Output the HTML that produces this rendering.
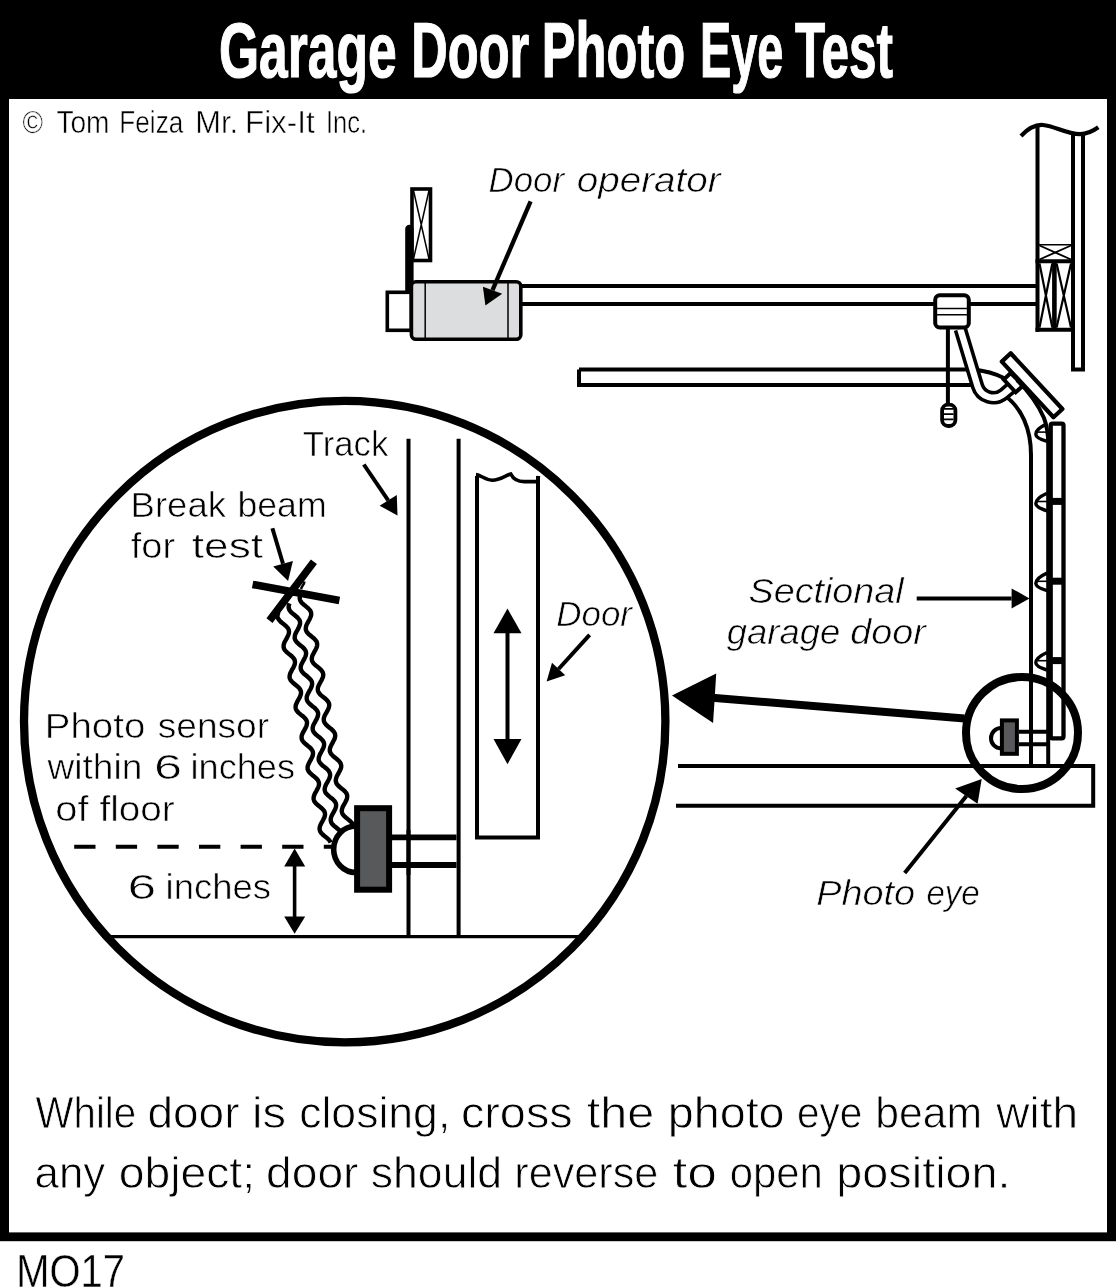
<!DOCTYPE html>
<html lang="en"><head><meta charset="utf-8"><title>Garage Door Photo Eye Test</title>
<style>
html,body{margin:0;padding:0;background:#fff}
svg{display:block;will-change:transform}
text{font-family:"Liberation Sans","DejaVu Sans",sans-serif;fill:#000}
.title{font-weight:bold;font-size:78px;fill:#fff;stroke:#fff;stroke-width:1.2px}
.cp{font-size:31px;stroke:#fff;stroke-width:.5px}
.lb{font-size:35px;stroke:#fff;stroke-width:.6px}
.lbi{font-size:35px;font-style:italic;stroke:#fff;stroke-width:.6px}
.cap{font-size:44px;stroke:#fff;stroke-width:.8px}
.code{font-size:47px;stroke:#fff;stroke-width:.4px}
.s15{stroke:#000;stroke-width:1.5;fill:none}
.s2{stroke:#000;stroke-width:2;fill:none}
.s35{stroke:#000;stroke-width:3.6;fill:none}
.s4{stroke:#000;stroke-width:4;fill:none}
</style></head><body>
<svg width="1116" height="1288" viewBox="0 0 1116 1288">
<rect x="0" y="0" width="1116" height="1288" style="fill:#fff"/>
<rect x="0" y="0" width="1116" height="99" fill="#000"/>
<rect x="0" y="0" width="9" height="1241" fill="#000"/>
<rect x="1107" y="0" width="9" height="1241" fill="#000"/>
<rect x="0" y="1232.4" width="1116" height="8.8" fill="#000"/>
<text class="title" x="219.0" y="76.8" textLength="177.6" lengthAdjust="spacingAndGlyphs">Garage</text>
<text class="title" x="411.3" y="76.8" textLength="118.0" lengthAdjust="spacingAndGlyphs">Door</text>
<text class="title" x="541.8" y="76.8" textLength="143.5" lengthAdjust="spacingAndGlyphs">Photo</text>
<text class="title" x="700.0" y="76.8" textLength="83.4" lengthAdjust="spacingAndGlyphs">Eye</text>
<text class="title" x="795.0" y="76.8" textLength="98.0" lengthAdjust="spacingAndGlyphs">Test</text>
<text class="cp" x="22.6" y="133.3" textLength="20.5" lengthAdjust="spacingAndGlyphs">©</text>
<text class="cp" x="56.4" y="133.3" textLength="53.1" lengthAdjust="spacingAndGlyphs">Tom</text>
<text class="cp" x="119.3" y="133.3" textLength="64.0" lengthAdjust="spacingAndGlyphs">Feiza</text>
<text class="cp" x="195.3" y="133.3" textLength="42.8" lengthAdjust="spacingAndGlyphs">Mr.</text>
<text class="cp" x="245.0" y="133.3" textLength="69.6" lengthAdjust="spacingAndGlyphs">Fix-It</text>
<text class="cp" x="326.0" y="133.3" textLength="41.0" lengthAdjust="spacingAndGlyphs">Inc.</text>
<path d="M1037.5,127 V331.7 M1073,132 V371.5 M1083,133 V371.5 M1071,369.5 H1085" class="s4"/>
<path d="M1021,136 C1029,127.5 1036,124.5 1043,125 C1055,126 1066,134 1080,134.2 C1087,134 1093,131 1098.3,127.2" stroke="#000" stroke-width="4.2" fill="none"/>
<path d="M1038,244.8 H1072" stroke="#000" stroke-width="1.6" fill="none"/>
<path d="M1039.5,245.5 L1071,259.5 M1039.5,259.5 L1071,245.5" stroke="#000" stroke-width="1.9" fill="none"/>
<path d="M1035.5,261.2 H1075 M1035.5,329.7 H1073" class="s4"/>
<path d="M1054.4,262 V329" stroke="#000" stroke-width="4.6" fill="none"/>
<path d="M1039.5,263.5 L1052.3,327.5 M1039.5,327.5 L1052.3,263.5 M1056.6,263.5 L1071,327.5 M1056.6,327.5 L1071,263.5" stroke="#000" stroke-width="2.2" fill="none"/>
<path d="M522,286.1 H1036 M522,303.9 H1036" class="s4"/>
<rect x="412" y="189" width="18.5" height="71.5" class="s35"/>
<path d="M413.5,190.5 L429,259 M429,190.5 L413.5,259" class="s15"/>
<path d="M409.4,229 V294" stroke="#000" stroke-width="8.4" stroke-linecap="round" fill="none"/>
<rect x="387.3" y="292.3" width="24" height="38" class="s35" style="fill:#fff"/>
<rect x="411.4" y="281.8" width="109.4" height="57.5" rx="4.5" class="s35" style="fill:#dcddde"/>
<path d="M425.2,283 V338 M508,283 V338" class="s15"/>
<path d="M579,369.5 H970 C986,370.5 997,374 1006,379" class="s4"/>
<path d="M965,385 H579 V369.5" class="s4"/>
<path d="M965,385 H973 M1006,396.5 C1021,408 1031,428 1031,455 V765" class="s4"/>
<path d="M947.9,329 V404" class="s4"/>
<rect x="942.1" y="404.7" width="13.3" height="21.3" rx="6" stroke="#000" stroke-width="3.8" style="fill:#fff"/>
<path d="M944,408.9 H953.5 M944,414.2 H953.5 M944,419.4 H953.5" stroke="#000" stroke-width="1.7" fill="none"/>
<path d="M960.3,329 L977.5,386 A16.5,16.5 0 0 0 1003.9,393.8 L1012,387" stroke="#000" stroke-width="13.5" fill="none"/>
<path d="M960.3,329 L977.5,386 A16.5,16.5 0 0 0 1003.9,393.8 L1012,387" stroke="#fff" stroke-width="6.3" fill="none"/>
<rect x="935.2" y="295.3" width="33.6" height="32.2" rx="4.5" class="s4" style="fill:#fff"/>
<path d="M937,308.5 H967 M937,314.8 H967" class="s15"/>
<polygon points="1010.7,353.3 1001.8,361.6 1053.5,417.3 1062.4,409" stroke="#000" stroke-width="4.2" style="fill:#fff" stroke-linejoin="round"/>
<polygon points="1010.7,373 1003.8,379.5 1015.7,392.3 1023,385.6" class="s4" style="fill:#fff"/>
<path d="M1017,380 C1027,390 1038,404 1044,418 C1047,426 1048.2,434 1048.2,444 V764" class="s4"/>
<rect x="1050.7" y="423.6" width="12.8" height="314.8" rx="1.8" stroke="#000" stroke-width="4.3" style="fill:#fff"/>
<path d="M1051,501.4 H1063.5" stroke="#000" stroke-width="7" fill="none"/>
<path d="M1051,581.2 H1063.5" stroke="#000" stroke-width="7" fill="none"/>
<path d="M1051,660.6 H1063.5" stroke="#000" stroke-width="7" fill="none"/>
<path d="M1047,423.9 C1041,426.6 1035.8,430.1 1035.8,434.2 C1035.8,437.6 1041,439.6 1047,441.4" stroke="#000" stroke-width="3.4" fill="none"/>
<path d="M1037.5,432.1 H1047" stroke="#000" stroke-width="1.6" fill="none"/>
<path d="M1047,493.3 C1041,496.0 1035.8,499.5 1035.8,503.6 C1035.8,507.0 1041,509.0 1047,510.8" stroke="#000" stroke-width="3.4" fill="none"/>
<path d="M1037.5,501.5 H1047" stroke="#000" stroke-width="1.6" fill="none"/>
<path d="M1047,573.1 C1041,575.8 1035.8,579.3 1035.8,583.4 C1035.8,586.8 1041,588.8 1047,590.6" stroke="#000" stroke-width="3.4" fill="none"/>
<path d="M1037.5,581.3 H1047" stroke="#000" stroke-width="1.6" fill="none"/>
<path d="M1047,652.5 C1041,655.2 1035.8,658.7 1035.8,662.8 C1035.8,666.2 1041,668.2 1047,670.0" stroke="#000" stroke-width="3.4" fill="none"/>
<path d="M1037.5,660.7 H1047" stroke="#000" stroke-width="1.6" fill="none"/>
<path d="M678,766 H1093.2 V805.7 H676" class="s4"/>
<path d="M1019,731.8 H1047 M1019,744.3 H1047" class="s4"/>
<path d="M1001,728 A10,10.2 0 0 0 1001,748.4" class="s4"/>
<rect x="1001.9" y="720.4" width="15" height="33.4" class="s4" style="fill:#58595b"/>
<circle cx="1022" cy="733" r="56" stroke="#000" stroke-width="8" fill="none"/>
<path d="M712,697.7 L964.5,718.6" stroke="#000" stroke-width="8" fill="none"/>
<polygon points="672,695.5 716.2,673.5 713.1,722.9" fill="#000"/>
<text class="lbi" x="488.6" y="192.1" textLength="75.4" lengthAdjust="spacingAndGlyphs">Door</text>
<text class="lbi" x="576.8" y="192.1" textLength="143.8" lengthAdjust="spacingAndGlyphs">operator</text>
<path d="M530.6,201.4 L492.5,290.2" stroke="#000" stroke-width="4.3" fill="none"/><polygon points="485.4,305.5 482.9,286.7 502.2,293.8" fill="#000"/>
<text class="lbi" x="748.5" y="603.1" textLength="155.2" lengthAdjust="spacingAndGlyphs">Sectional</text>
<text class="lbi" x="726.8" y="643.9" textLength="113.5" lengthAdjust="spacingAndGlyphs">garage</text>
<text class="lbi" x="850.3" y="643.9" textLength="75.4" lengthAdjust="spacingAndGlyphs">door</text>
<path d="M916.7,598.4 L1011.6,598.4" stroke="#000" stroke-width="4" fill="none"/><polygon points="1029.5,598.4 1011.6,588.4 1011.6,608.4" fill="#000"/>
<text class="lbi" x="816.2" y="904.5" textLength="99.0" lengthAdjust="spacingAndGlyphs">Photo</text>
<text class="lbi" x="926.4" y="904.5" textLength="53.3" lengthAdjust="spacingAndGlyphs">eye</text>
<path d="M904.7,873 L966.4,796.1" stroke="#000" stroke-width="4" fill="none"/><polygon points="981.7,778.9 955.2,788.4 977.6,803.8" fill="#000"/>
<circle cx="344.7" cy="721.6" r="320.7" stroke="#000" stroke-width="8.3" fill="none"/>
<path d="M107,936.6 H582.5" stroke="#000" stroke-width="3.4" fill="none"/>
<path d="M408.5,438.7 V936 M458.6,438.7 V936" class="s4"/>
<path d="M477,476 V837.6 H538 V476" class="s4"/>
<path d="M476,474.6 C481,475 485,480 492,480.2 C500,480.4 505,475.5 510.8,474 C513,478.5 518,481.6 524,481.6 H537.5 L538.5,476" class="s35"/>
<path d="M507.5,630 V742" class="s4"/>
<polygon points="507.5,608.6 493.5,633.3 521.5,633.3" fill="#000"/>
<polygon points="507.5,764.2 493.5,739 521.5,739" fill="#000"/>
<text class="lbi" x="556.3" y="625.8" textLength="75.7" lengthAdjust="spacingAndGlyphs">Door</text>
<path d="M589.6,634.8 L558.6,669.0" stroke="#000" stroke-width="4" fill="none"/><polygon points="546.6,681.4 552,662.7 565.2,675.3" fill="#000"/>
<text class="lb" x="302.7" y="455.9" textLength="85.6" lengthAdjust="spacingAndGlyphs">Track</text>
<path d="M363.8,464.5 L388.2,500.4" stroke="#000" stroke-width="4" fill="none"/><polygon points="397.5,515.4 379.6,505.7 396.8,495" fill="#000"/>
<text class="lb" x="130.5" y="516.5" textLength="95.5" lengthAdjust="spacingAndGlyphs">Break</text>
<text class="lb" x="237.4" y="516.5" textLength="89.2" lengthAdjust="spacingAndGlyphs">beam</text>
<text class="lb" x="130.8" y="557.7" textLength="44.4" lengthAdjust="spacingAndGlyphs">for</text>
<text class="lb" x="191.8" y="557.7" textLength="71.3" lengthAdjust="spacingAndGlyphs">test</text>
<path d="M272.4,528.3 L283.0,563.8" stroke="#000" stroke-width="4" fill="none"/><polygon points="288.1,581.1 273.2,566.6 292.9,561" fill="#000"/>
<path d="M300.6,594.5 L300.1,595.8 L299.8,597.0 L299.7,598.3 L299.9,599.4 L300.3,600.6 L300.9,601.6 L301.7,602.7 L302.7,603.7 L303.8,604.7 L305.0,605.6 L306.2,606.6 L307.4,607.6 L308.5,608.6 L309.4,609.6 L310.2,610.6 L310.8,611.7 L311.1,612.9 L311.2,614.0 L311.1,615.3 L310.7,616.5 L310.2,617.8 L309.6,619.2 L308.9,620.5 L308.1,621.9 L307.4,623.2 L306.7,624.5 L306.2,625.9 L305.9,627.1 L305.8,628.4 L305.8,629.5 L306.2,630.7 L306.7,631.8 L307.5,632.8 L308.4,633.8 L309.5,634.8 L310.7,635.8 L311.9,636.8 L313.1,637.7 L314.2,638.7 L315.2,639.7 L316.0,640.8 L316.7,641.8 L317.0,643.0 L317.2,644.1 L317.1,645.3 L316.9,646.6 L316.4,647.9 L315.8,649.2 L315.1,650.6 L314.3,651.9 L313.6,653.3 L312.9,654.6 L312.3,655.9 L312.0,657.2 L311.8,658.4 L311.8,659.6 L312.1,660.8 L312.6,661.9 L313.3,663.0 L314.2,664.0 L315.2,665.0 L316.4,665.9 L317.6,666.9 L318.8,667.9 L319.9,668.9 L321.0,669.9 L321.8,670.9 L322.5,672.0 L323.0,673.1 L323.2,674.2 L323.2,675.4 L323.0,676.7 L322.5,678.0 L322.0,679.3 L321.3,680.6 L320.5,682.0 L319.8,683.3 L319.1,684.7 L318.5,686.0 L318.0,687.3 L317.8,688.5 L317.8,689.7 L318.0,690.9 L318.4,692.0 L319.1,693.1 L319.9,694.1 L320.9,695.1 L322.1,696.1 L323.3,697.1 L324.5,698.0 L325.7,699.0 L326.7,700.0 L327.6,701.0 L328.4,702.1 L328.9,703.2 L329.2,704.3 L329.2,705.5 L329.0,706.7 L328.7,708.0 L328.1,709.3 L327.5,710.7 L326.7,712.0 L326.0,713.4 L325.2,714.7 L324.6,716.0 L324.1,717.3 L323.8,718.6 L323.8,719.8 L323.9,721.0 L324.3,722.1 L324.9,723.2 L325.7,724.2 L326.7,725.3 L327.8,726.2 L329.0,727.2 L330.2,728.2 L331.4,729.1 L332.4,730.1 L333.4,731.1 L334.2,732.2 L334.8,733.3 L335.1,734.4 L335.2,735.6 L335.1,736.8 L334.8,738.1 L334.3,739.4 L333.6,740.7 L332.9,742.1 L332.2,743.4 L331.4,744.8 L330.8,746.1 L330.3,747.4 L329.9,748.7 L329.8,749.9 L329.8,751.1 L330.2,752.2 L330.7,753.3 L331.5,754.4 L332.4,755.4 L333.5,756.4 L334.6,757.4 L335.9,758.3 L337.1,759.3 L338.2,760.3 L339.2,761.3 L340.0,762.3 L340.6,763.4 L341.0,764.5 L341.2,765.7 L341.2,766.9 L340.9,768.2 L340.4,769.5 L339.8,770.8 L339.1,772.1 L338.4,773.5 L337.6,774.8 L336.9,776.2 L336.4,777.5 L336.0,778.7 L335.8,780.0 L335.8,781.2 L336.1,782.3 L336.5,783.5 L337.2,784.5 L338.1,785.5 L339.2,786.5 L340.3,787.5 L341.5,788.5 L342.7,789.4 L343.9,790.4 L344.9,791.4 L345.8,792.4 L346.5,793.5 L347.0,794.6 L347.2,795.8 L347.2,797.0 L347.0,798.2 L346.6,799.5 L346.0,800.8 L345.3,802.2 L344.6,803.5 L343.8,804.9 L343.1,806.2 L342.5,807.5 L342.1,808.8 L341.8,810.1 L341.8,811.3 L342.0,812.4 L342.4,813.6 L343.0,814.6 L343.9,815.7 L344.9,816.7 L346.0,817.7 L347.2,818.6 L348.4,819.6 L349.6,820.6 L350.7,821.6 L351.6,822.6 L352.3,823.6 L352.9,824.7" stroke="#000" stroke-width="4.4" fill="none" stroke-linejoin="round"/>
<path d="M289.5,603.4 L289.0,604.7 L288.7,605.9 L288.6,607.2 L288.8,608.3 L289.2,609.5 L289.8,610.5 L290.6,611.6 L291.6,612.6 L292.7,613.6 L293.9,614.5 L295.1,615.5 L296.3,616.5 L297.4,617.5 L298.3,618.5 L299.1,619.5 L299.7,620.6 L300.0,621.8 L300.1,622.9 L300.0,624.2 L299.6,625.4 L299.1,626.7 L298.5,628.1 L297.8,629.4 L297.0,630.8 L296.3,632.1 L295.6,633.4 L295.1,634.8 L294.8,636.0 L294.7,637.3 L294.7,638.4 L295.1,639.6 L295.6,640.7 L296.4,641.7 L297.3,642.7 L298.4,643.7 L299.6,644.7 L300.8,645.7 L302.0,646.6 L303.1,647.6 L304.1,648.6 L304.9,649.7 L305.6,650.7 L305.9,651.9 L306.1,653.0 L306.0,654.2 L305.8,655.5 L305.3,656.8 L304.7,658.1 L304.0,659.5 L303.2,660.8 L302.5,662.2 L301.8,663.5 L301.2,664.8 L300.9,666.1 L300.7,667.3 L300.7,668.5 L301.0,669.7 L301.5,670.8 L302.2,671.9 L303.1,672.9 L304.1,673.9 L305.3,674.8 L306.5,675.8 L307.7,676.8 L308.8,677.8 L309.9,678.8 L310.7,679.8 L311.4,680.9 L311.9,682.0 L312.1,683.1 L312.1,684.3 L311.9,685.6 L311.4,686.9 L310.9,688.2 L310.2,689.5 L309.4,690.9 L308.7,692.2 L308.0,693.6 L307.4,694.9 L306.9,696.2 L306.7,697.4 L306.7,698.6 L306.9,699.8 L307.3,700.9 L308.0,702.0 L308.8,703.0 L309.8,704.0 L311.0,705.0 L312.2,706.0 L313.4,706.9 L314.6,707.9 L315.6,708.9 L316.5,709.9 L317.3,711.0 L317.8,712.1 L318.1,713.2 L318.1,714.4 L317.9,715.6 L317.6,716.9 L317.0,718.2 L316.4,719.6 L315.6,720.9 L314.9,722.3 L314.1,723.6 L313.5,724.9 L313.0,726.2 L312.7,727.5 L312.7,728.7 L312.8,729.9 L313.2,731.0 L313.8,732.1 L314.6,733.1 L315.6,734.2 L316.7,735.1 L317.9,736.1 L319.1,737.1 L320.3,738.0 L321.3,739.0 L322.3,740.0 L323.1,741.1 L323.7,742.2 L324.0,743.3 L324.1,744.5 L324.0,745.7 L323.7,747.0 L323.2,748.3 L322.5,749.6 L321.8,751.0 L321.1,752.3 L320.3,753.7 L319.7,755.0 L319.2,756.3 L318.8,757.6 L318.7,758.8 L318.7,760.0 L319.1,761.1 L319.6,762.2 L320.4,763.3 L321.3,764.3 L322.4,765.3 L323.5,766.3 L324.8,767.2 L326.0,768.2 L327.1,769.2 L328.1,770.2 L328.9,771.2 L329.5,772.3 L329.9,773.4 L330.1,774.6 L330.1,775.8 L329.8,777.1 L329.3,778.4 L328.7,779.7 L328.0,781.0 L327.3,782.4 L326.5,783.7 L325.8,785.1 L325.3,786.4 L324.9,787.6 L324.7,788.9 L324.7,790.1 L325.0,791.2 L325.4,792.4 L326.1,793.4 L327.0,794.4 L328.1,795.4 L329.2,796.4 L330.4,797.4 L331.6,798.3 L332.8,799.3 L333.8,800.3 L334.7,801.3 L335.4,802.4 L335.9,803.5 L336.1,804.7 L336.1,805.9 L335.9,807.1 L335.5,808.4 L334.9,809.7 L334.2,811.1 L333.5,812.4 L332.7,813.8 L332.0,815.1 L331.4,816.4 L331.0,817.7 L330.7,819.0 L330.7,820.2 L330.9,821.3 L331.3,822.5 L331.9,823.5 L332.8,824.6 L333.8,825.6 L334.9,826.6 L336.1,827.5 L337.3,828.5 L338.5,829.5 L339.6,830.5 L340.5,831.5 L341.2,832.5 L341.8,833.6" stroke="#000" stroke-width="4.4" fill="none" stroke-linejoin="round"/>
<path d="M278.4,612.3 L277.9,613.6 L277.6,614.8 L277.5,616.1 L277.7,617.2 L278.1,618.4 L278.7,619.4 L279.5,620.5 L280.5,621.5 L281.6,622.5 L282.8,623.4 L284.0,624.4 L285.2,625.4 L286.3,626.4 L287.2,627.4 L288.0,628.4 L288.6,629.5 L288.9,630.7 L289.0,631.8 L288.9,633.1 L288.5,634.3 L288.0,635.6 L287.4,637.0 L286.7,638.3 L285.9,639.7 L285.2,641.0 L284.5,642.3 L284.0,643.7 L283.7,644.9 L283.6,646.2 L283.6,647.3 L284.0,648.5 L284.5,649.6 L285.3,650.6 L286.2,651.6 L287.3,652.6 L288.5,653.6 L289.7,654.6 L290.9,655.5 L292.0,656.5 L293.0,657.5 L293.8,658.6 L294.5,659.6 L294.8,660.8 L295.0,661.9 L294.9,663.1 L294.7,664.4 L294.2,665.7 L293.6,667.0 L292.9,668.4 L292.1,669.7 L291.4,671.1 L290.7,672.4 L290.1,673.7 L289.8,675.0 L289.6,676.2 L289.6,677.4 L289.9,678.6 L290.4,679.7 L291.1,680.8 L292.0,681.8 L293.0,682.8 L294.2,683.7 L295.4,684.7 L296.6,685.7 L297.7,686.7 L298.8,687.7 L299.6,688.7 L300.3,689.8 L300.8,690.9 L301.0,692.0 L301.0,693.2 L300.8,694.5 L300.3,695.8 L299.8,697.1 L299.1,698.4 L298.3,699.8 L297.6,701.1 L296.9,702.5 L296.3,703.8 L295.8,705.1 L295.6,706.3 L295.6,707.5 L295.8,708.7 L296.2,709.8 L296.9,710.9 L297.7,711.9 L298.7,712.9 L299.9,713.9 L301.1,714.9 L302.3,715.8 L303.5,716.8 L304.5,717.8 L305.4,718.8 L306.2,719.9 L306.7,721.0 L307.0,722.1 L307.0,723.3 L306.8,724.5 L306.5,725.8 L305.9,727.1 L305.3,728.5 L304.5,729.8 L303.8,731.2 L303.0,732.5 L302.4,733.8 L301.9,735.1 L301.6,736.4 L301.6,737.6 L301.7,738.8 L302.1,739.9 L302.7,741.0 L303.5,742.0 L304.5,743.1 L305.6,744.0 L306.8,745.0 L308.0,746.0 L309.2,746.9 L310.2,747.9 L311.2,748.9 L312.0,750.0 L312.6,751.1 L312.9,752.2 L313.0,753.4 L312.9,754.6 L312.6,755.9 L312.1,757.2 L311.4,758.5 L310.7,759.9 L310.0,761.2 L309.2,762.6 L308.6,763.9 L308.1,765.2 L307.7,766.5 L307.6,767.7 L307.6,768.9 L308.0,770.0 L308.5,771.1 L309.3,772.2 L310.2,773.2 L311.3,774.2 L312.4,775.2 L313.7,776.1 L314.9,777.1 L316.0,778.1 L317.0,779.1 L317.8,780.1 L318.4,781.2 L318.8,782.3 L319.0,783.5 L319.0,784.7 L318.7,786.0 L318.2,787.3 L317.6,788.6 L316.9,789.9 L316.2,791.3 L315.4,792.6 L314.7,794.0 L314.2,795.3 L313.8,796.5 L313.6,797.8 L313.6,799.0 L313.9,800.1 L314.3,801.3 L315.0,802.3 L315.9,803.3 L317.0,804.3 L318.1,805.3 L319.3,806.3 L320.5,807.2 L321.7,808.2 L322.7,809.2 L323.6,810.2 L324.3,811.3 L324.8,812.4 L325.0,813.6 L325.0,814.8 L324.8,816.0 L324.4,817.3 L323.8,818.6 L323.1,820.0 L322.4,821.3 L321.6,822.7 L320.9,824.0 L320.3,825.3 L319.9,826.6 L319.6,827.9 L319.6,829.1 L319.8,830.2 L320.2,831.4 L320.8,832.4 L321.7,833.5 L322.7,834.5 L323.8,835.5 L325.0,836.4 L326.2,837.4 L327.4,838.4 L328.5,839.4 L329.4,840.4 L330.1,841.4 L330.7,842.5" stroke="#000" stroke-width="4.4" fill="none" stroke-linejoin="round"/>
<path d="M301,589 C302,586 304.5,584 304.3,581.5" stroke="#000" stroke-width="2.5" fill="none"/>
<path d="M252.6,584.4 L339.4,600.5 M313.9,561.8 L269.5,620.6" stroke="#000" stroke-width="7.6" fill="none"/>
<text class="lb" x="44.8" y="737.6" textLength="100.5" lengthAdjust="spacingAndGlyphs">Photo</text>
<text class="lb" x="157.7" y="737.6" textLength="111.4" lengthAdjust="spacingAndGlyphs">sensor</text>
<text class="lb" x="47.6" y="779.0" textLength="94.7" lengthAdjust="spacingAndGlyphs">within</text>
<text class="lb" x="153.9" y="779.0" textLength="28.1" lengthAdjust="spacingAndGlyphs">6</text>
<text class="lb" x="190.5" y="779.0" textLength="104.5" lengthAdjust="spacingAndGlyphs">inches</text>
<text class="lb" x="55.2" y="821.0" textLength="33.4" lengthAdjust="spacingAndGlyphs">of</text>
<text class="lb" x="99.4" y="821.0" textLength="75.3" lengthAdjust="spacingAndGlyphs">floor</text>
<text class="lb" x="127.5" y="899.4" textLength="28.7" lengthAdjust="spacingAndGlyphs">6</text>
<text class="lb" x="165.6" y="899.4" textLength="105.5" lengthAdjust="spacingAndGlyphs">inches</text>
<path d="M74.2,846.7 H332" stroke="#000" stroke-width="4" stroke-dasharray="21.3 20.3" fill="none"/>
<path d="M294.6,862 V920" class="s35"/>
<polygon points="294.6,848.5 284.2,866.4 305.2,866.4" fill="#000"/>
<polygon points="294.6,933.8 284.2,916.6 305.2,916.6" fill="#000"/>
<path d="M392,837.4 H456.5 M392,865 H456.5" stroke="#000" stroke-width="5.8" fill="none"/>
<path d="M408.5,830 V875" class="s4"/>
<path d="M356,826 A22.4,23.3 0 0 0 356,872.6" stroke="#000" stroke-width="5.6" fill="none"/>
<rect x="357.1" y="808.2" width="32" height="81.5" stroke="#000" stroke-width="6" style="fill:#58595b"/>
<text class="cap" x="35.6" y="1127.7" textLength="100.6" lengthAdjust="spacingAndGlyphs">While</text>
<text class="cap" x="147.5" y="1127.7" textLength="92.0" lengthAdjust="spacingAndGlyphs">door</text>
<text class="cap" x="252.1" y="1127.7" textLength="34.0" lengthAdjust="spacingAndGlyphs">is</text>
<text class="cap" x="299.2" y="1127.7" textLength="151.1" lengthAdjust="spacingAndGlyphs">closing,</text>
<text class="cap" x="460.9" y="1127.7" textLength="111.8" lengthAdjust="spacingAndGlyphs">cross</text>
<text class="cap" x="586.8" y="1127.7" textLength="67.4" lengthAdjust="spacingAndGlyphs">the</text>
<text class="cap" x="667.7" y="1127.7" textLength="116.9" lengthAdjust="spacingAndGlyphs">photo</text>
<text class="cap" x="797.1" y="1127.7" textLength="65.3" lengthAdjust="spacingAndGlyphs">eye</text>
<text class="cap" x="875.3" y="1127.7" textLength="106.8" lengthAdjust="spacingAndGlyphs">beam</text>
<text class="cap" x="996.3" y="1127.7" textLength="81.8" lengthAdjust="spacingAndGlyphs">with</text>
<text class="cap" x="34.6" y="1188.0" textLength="70.7" lengthAdjust="spacingAndGlyphs">any</text>
<text class="cap" x="118.7" y="1188.0" textLength="136.3" lengthAdjust="spacingAndGlyphs">object;</text>
<text class="cap" x="266.0" y="1188.0" textLength="92.5" lengthAdjust="spacingAndGlyphs">door</text>
<text class="cap" x="370.7" y="1188.0" textLength="131.5" lengthAdjust="spacingAndGlyphs">should</text>
<text class="cap" x="514.3" y="1188.0" textLength="144.1" lengthAdjust="spacingAndGlyphs">reverse</text>
<text class="cap" x="672.5" y="1188.0" textLength="44.6" lengthAdjust="spacingAndGlyphs">to</text>
<text class="cap" x="729.8" y="1188.0" textLength="93.1" lengthAdjust="spacingAndGlyphs">open</text>
<text class="cap" x="836.3" y="1188.0" textLength="174.3" lengthAdjust="spacingAndGlyphs">position.</text>
<text class="code" x="16.3" y="1286.8" textLength="108.6" lengthAdjust="spacingAndGlyphs">MO17</text>
</svg>
</body></html>
